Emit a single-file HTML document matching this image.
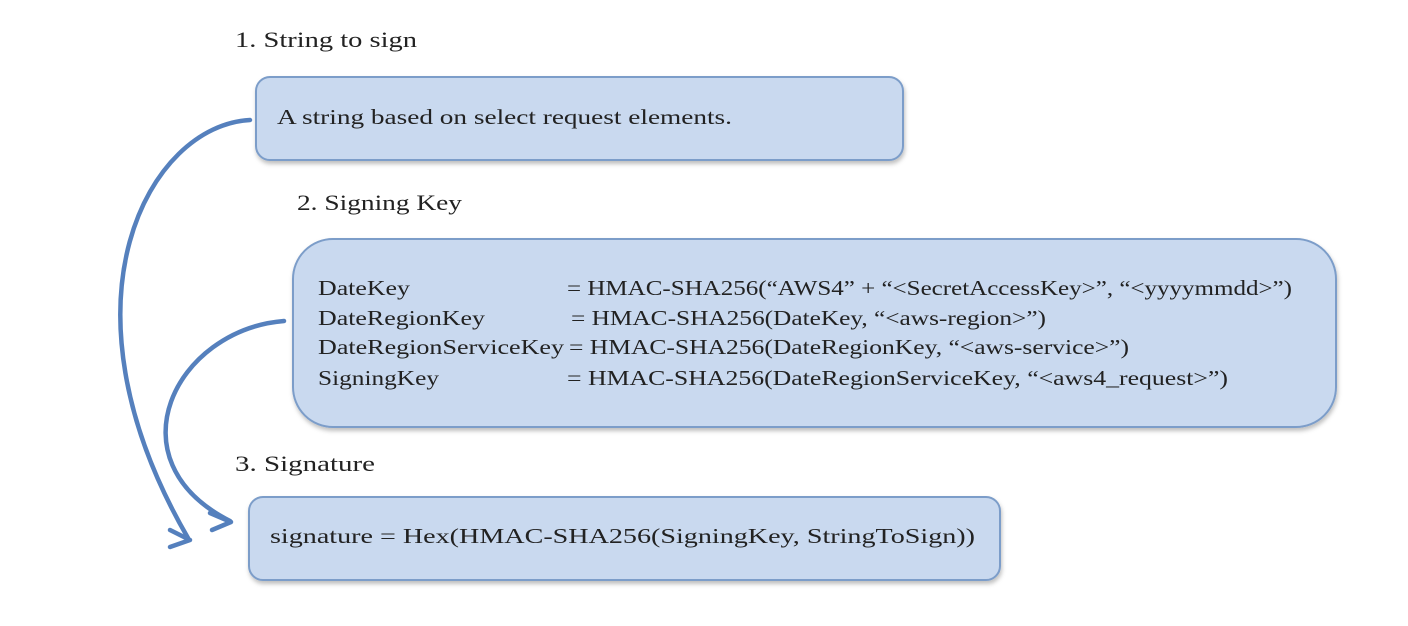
<!DOCTYPE html>
<html><head><meta charset="utf-8"><style>
html,body{margin:0;padding:0;background:#fff;}
svg{display:block}
text{font-family:"Liberation Serif",serif;fill:#222;}
</style></head><body>
<svg width="1408" height="626" viewBox="0 0 1408 626" xmlns="http://www.w3.org/2000/svg">
<defs><filter id="sh" x="-5%" y="-5%" width="110%" height="120%"><feDropShadow dx="1" dy="3" stdDeviation="2" flood-color="#000" flood-opacity="0.25"/></filter></defs>
<g font-size="22">
<text x="235" y="47" textLength="182" lengthAdjust="spacingAndGlyphs">1. String to sign</text>
<text x="297" y="210" textLength="165" lengthAdjust="spacingAndGlyphs">2. Signing Key</text>
<text x="235" y="471" textLength="140" lengthAdjust="spacingAndGlyphs">3. Signature</text>
</g>
<rect x="256" y="77" width="647" height="83" rx="14" fill="#c9d9ef" stroke="#7c9dc9" stroke-width="2" filter="url(#sh)"/>
<rect x="293" y="239" width="1043" height="188" rx="40" fill="#c9d9ef" stroke="#7c9dc9" stroke-width="2" filter="url(#sh)"/>
<rect x="249" y="497" width="751" height="83" rx="14" fill="#c9d9ef" stroke="#7c9dc9" stroke-width="2" filter="url(#sh)"/>
<g font-size="21">
<text x="277" y="124" textLength="455" lengthAdjust="spacingAndGlyphs">A string based on select request elements.</text>
<text x="318" y="295" textLength="92" lengthAdjust="spacingAndGlyphs">DateKey</text>
<text x="567" y="295" textLength="725" lengthAdjust="spacingAndGlyphs">= HMAC-SHA256(“AWS4” + “&lt;SecretAccessKey&gt;”, “&lt;yyyymmdd&gt;”)</text>
<text x="318" y="325" textLength="167" lengthAdjust="spacingAndGlyphs">DateRegionKey</text>
<text x="571" y="325" textLength="475" lengthAdjust="spacingAndGlyphs">= HMAC-SHA256(DateKey, “&lt;aws-region&gt;”)</text>
<text x="318" y="354" textLength="246" lengthAdjust="spacingAndGlyphs">DateRegionServiceKey</text>
<text x="569" y="354" textLength="560" lengthAdjust="spacingAndGlyphs">= HMAC-SHA256(DateRegionKey, “&lt;aws-service&gt;”)</text>
<text x="318" y="385" textLength="121" lengthAdjust="spacingAndGlyphs">SigningKey</text>
<text x="567" y="385" textLength="661" lengthAdjust="spacingAndGlyphs">= HMAC-SHA256(DateRegionServiceKey, “&lt;aws4_request&gt;”)</text>
<text x="270" y="543" textLength="705" lengthAdjust="spacingAndGlyphs">signature = Hex(HMAC-SHA256(SigningKey, StringToSign))</text>
</g>
<g fill="none" stroke="#5580bd" stroke-width="4.5" stroke-linecap="round" stroke-linejoin="round">
<path d="M250,120 C150,125 50,300 188,538"/>
<path d="M170,530 L190,540 L170,547"/>
<path d="M284,321 C175,330 110,460 230,521"/>
<path d="M210,513 L231,522 L212,530"/>
</g>
</svg>
</body></html>
